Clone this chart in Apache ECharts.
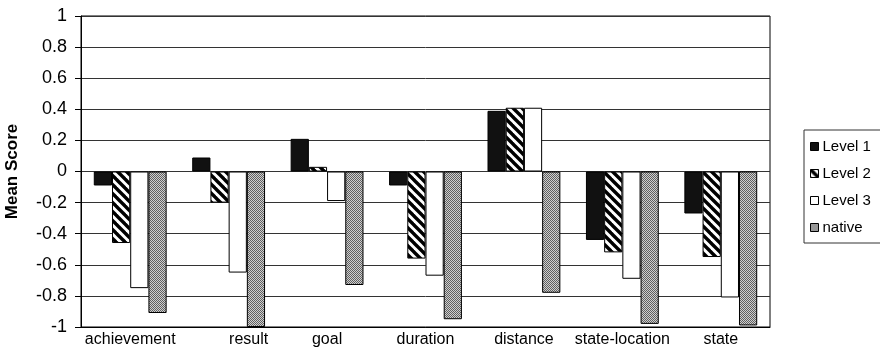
<!DOCTYPE html>
<html><head><meta charset="utf-8">
<script src="https://cdn.jsdelivr.net/npm/echarts@6/dist/echarts.min.js"></script>
<style>html,body{margin:0;padding:0;background:#fff;overflow:hidden}#c{width:880px;height:347px}</style>
</head><body><div id="c"></div>
<script>
const categories = ['achievement','result','goal','duration','distance','state-location','state'];
const seriesNames = ['Level 1','Level 2','Level 3','native'];
const level1 = [-0.09, 0.09, 0.21, -0.09, 0.39, -0.44, -0.27];
const level2 = [-0.46, -0.20, 0.03, -0.56, 0.41, -0.52, -0.55];
const level3 = [-0.75, -0.65, -0.19, -0.67, 0.41, -0.69, -0.81];
const native = [-0.91, -1.00, -0.73, -0.95, -0.78, -0.98, -0.99];
const yTicks = [-1,-0.8,-0.6,-0.4,-0.2,0,0.2,0.4,0.6,0.8,1];

function stripe(){
  const s=9, c=document.createElement('canvas'); c.width=s; c.height=s;
  const x=c.getContext('2d'); x.fillStyle='#fff'; x.fillRect(0,0,s,s);
  x.strokeStyle='#000'; x.lineWidth=3.4; x.lineCap='square';
  for(const k of [-s,0,s]){ x.beginPath(); x.moveTo(k,0); x.lineTo(k+s,s); x.stroke(); }
  return {image:c, repeat:'repeat'};
}
function dots(){
  const c=document.createElement('canvas'); c.width=2; c.height=2;
  const x=c.getContext('2d'); x.fillStyle='#cfcfcf'; x.fillRect(0,0,2,2);
  x.fillStyle='#606060'; x.fillRect(0,0,1,1); x.fillRect(1,1,1,1);
  return {image:c, repeat:'repeat'};
}
const fills = ['#111', stripe(), '#fff', dots()];
const datas = [level1, level2, level3, native];
// in the original figure the "result" label sits right of its group's centre
const labelStyle = {result:'r'};

const FONT = 'Liberation Sans, Arial, sans-serif';
const chart = echarts.init(document.getElementById('c'), null, {renderer:'canvas'});
chart.setOption({
  animation:false,
  textStyle:{fontFamily:FONT},
  grid:{left:81, right:110, top:16, bottom:20, show:true, borderColor:'#000', borderWidth:1,
        containLabel:false, outerBoundsMode:'none'},
  legend:{
    orient:'vertical', left:804, top:130, data:seriesNames,
    icon:'rect', itemWidth:8, itemHeight:8, itemGap:12,
    padding:[9,20,8,6], borderColor:'#333', borderWidth:1, backgroundColor:'#fff',
    textStyle:{fontSize:15, color:'#000', fontFamily:FONT, padding:[0,0,0,-1]},
    itemStyle:{borderColor:'#000', borderWidth:1}
  },
  xAxis:{
    type:'category', data:categories,
    axisLine:{onZero:false, lineStyle:{color:'#000', width:1}},
    axisTick:{show:false},
    axisLabel:{color:'#000', fontSize:16, margin:5, interval:0, hideOverlap:false,
      formatter:v=> labelStyle[v] ? '{'+labelStyle[v]+'|'+v+'}' : v,
      rich:{
        r:{fontSize:16, color:'#000', fontFamily:FONT, padding:[0,0,0,40]}
      }
    }
  },
  yAxis:{
    type:'value', min:-1, max:1, interval:0.2,
    name:'Mean Score', nameLocation:'middle', nameGap:60, nameRotate:90,
    nameTextStyle:{fontSize:17, fontWeight:'bold', color:'#000', fontFamily:FONT},
    axisLine:{show:true, lineStyle:{color:'#000'}},
    axisTick:{show:true, length:6, lineStyle:{color:'#000'}},
    axisLabel:{color:'#000', fontSize:18, margin:14, formatter:v=>String(Math.round(v*10)/10)},
    splitLine:{show:true, lineStyle:{color:'#333', width:1}}
  },
  series: seriesNames.map((n,i)=>({
    name:n, type:'bar', data:datas[i],
    barGap:'0%', barCategoryGap:'26%',
    itemStyle:{color:fills[i], borderColor:'#000', borderWidth:1}
  }))
});
</script></body></html>
